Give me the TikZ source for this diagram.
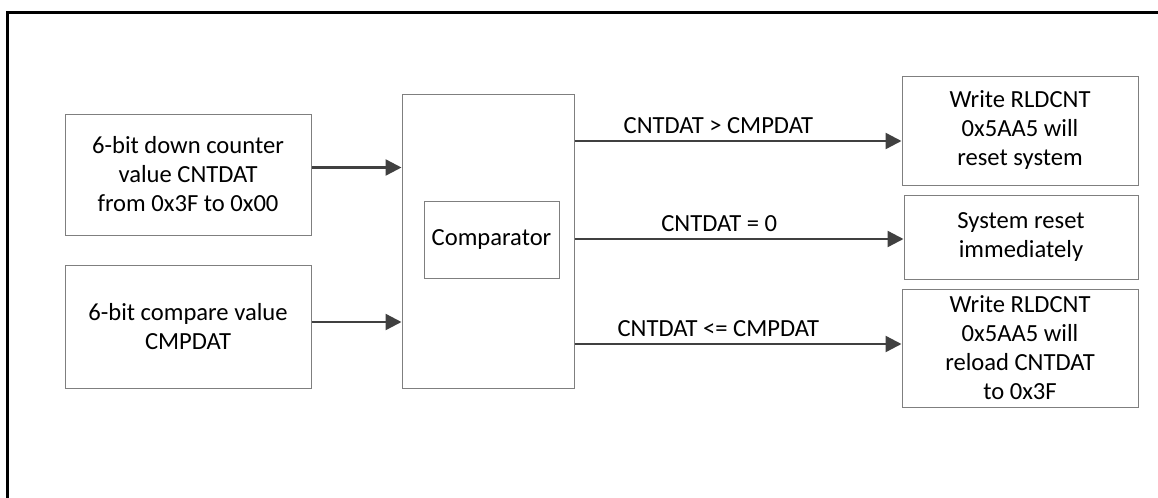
\documentclass[tikz,border=0pt]{standalone}
\usepackage{fontspec}
\setmainfont{Carlito}
\usetikzlibrary{arrows.meta}
\definecolor{boxgray}{HTML}{7F7F7F}
\definecolor{arrgray}{HTML}{404040}
\begin{document}
\begin{tikzpicture}[x=0.5pt,y=-0.5pt,
  every node/.style={font=\fontsize{12.3pt}{14.5pt}\selectfont, text=black},
  blk/.style={draw=boxgray, line width=0.5pt, align=center, inner sep=0pt},
  arr/.style={draw=arrgray, line width=1.2pt, -{Triangle[length=8pt,width=8pt]}},
  lbl/.style={anchor=base, yshift=4pt}]
\useasboundingbox (0,0) rectangle (1158,498);
% outer frame
\coordinate (fbl) at (7.5,498);
\coordinate (ftl) at (7.5,12.5);
\coordinate (ftr) at (1158,12.5);
\draw[black, line width=1.5pt] (fbl) -- (ftl) -- (ftr);
% boxes
\node[blk, minimum width=123pt, minimum height=60.5pt] (cnt) at (188,174.5)
  {6-bit down counter\\value CNTDAT\\from 0x3F to 0x00};
\node[blk, minimum width=123pt, minimum height=61.5pt] (cmp) at (188,326.5)
  {6-bit compare value\\CMPDAT};
\node[blk, minimum width=86pt, minimum height=147pt] (big) at (488,241) {};
\node[blk, minimum width=67.5pt, minimum height=38.5pt] (inner) at (491.5,239.5) {Comparator};
\node[blk, minimum width=118pt, minimum height=54.5pt] (ra) at (1020,130.5)
  {Write RLDCNT\\0x5AA5 will\\reset system};
\node[blk, minimum width=117pt, minimum height=42pt] (rb) at (1021,237)
  {System reset\\immediately};
\node[blk, minimum width=118pt, minimum height=59pt] (rc) at (1020,348)
  {Write RLDCNT\\0x5AA5 will\\reload CNTDAT\\to 0x3F};
% inputs
\draw[arr] ([yshift=3.5pt]cnt.east) -- ([yshift=3.5pt]cnt.east -| big.west);
\draw[arr] ([yshift=2.25pt]cmp.east) -- ([yshift=2.25pt]cmp.east -| big.west);
% outputs
\draw[arr] ([yshift=-5.25pt]ra.west -| big.east) -- node[lbl, pos=0.44] {CNTDAT > CMPDAT} ([yshift=-5.25pt]ra.west);
\draw[arr] ([yshift=-1pt]rb.west -| big.east) -- node[lbl, pos=0.44] {CNTDAT = 0} ([yshift=-1pt]rb.west);
\draw[arr] ([yshift=2pt]rc.west -| big.east) -- node[lbl, pos=0.44] {CNTDAT <= CMPDAT} ([yshift=2pt]rc.west);
\end{tikzpicture}
\end{document}
